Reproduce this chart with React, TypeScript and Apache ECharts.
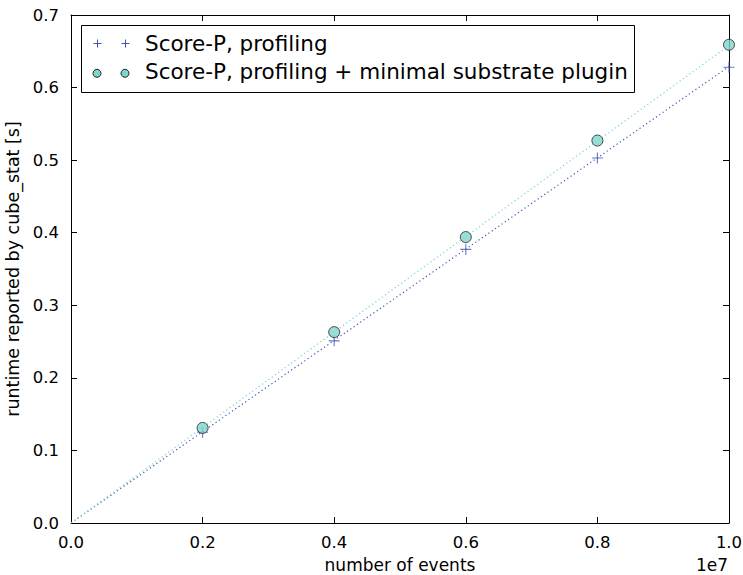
import React, { useEffect, useRef } from "react";
import * as echarts from "echarts";

const events = [2e6, 4e6, 6e6, 8e6, 1e7];
const profiling = [0.125, 0.251, 0.377, 0.503, 0.628];
const plugin = [0.131, 0.263, 0.394, 0.527, 0.659];
const fitProfiling = [[0, 0], [1e7, 0.629]];
const fitPlugin = [[0, 0], [1e7, 0.658]];
const legendNames = ["Score-P, profiling", "Score-P, profiling + minimal substrate plugin"];

const BLUE = "#4352b8";
const CYAN = "#7fd6cc";
const CYAN_LINE = "#86d9d3";
const FONT = "DejaVu Sans";
const PLUS = "path://M4.5,0h1v4.5h4.5v1h-4.5v4.5h-1v-4.5h-4.5v-1h4.5z";

export default function App() {
  const ref = useRef<HTMLDivElement>(null);
  useEffect(() => {
    document.body.style.margin = "0";
    const chart = echarts.init(ref.current!, null, { renderer: "svg" });
    const tickCommon = { show: true, inside: true, length: 6, lineStyle: { color: "#000", width: 1 } };
    const lineCommon = { show: true, onZero: false, lineStyle: { color: "#000", width: 1 } };
    const L = 81.5, T = 25.5, W = 553, H = 67;
    const mx = [97, 125];
    chart.setOption({
      animation: false,
      backgroundColor: "#fff",
      grid: { left: 71, right: 14, top: 15, bottom: 52, containLabel: false, outerBoundsMode: "none" },
      xAxis: [
        {
          type: "value", min: 0, max: 1e7, interval: 2e6, position: "bottom",
          axisLine: lineCommon, axisTick: tickCommon, splitLine: { show: false },
          axisLabel: { fontFamily: FONT, fontSize: 16.5, color: "#000", margin: 11,
            formatter: (v: number) => (v / 1e7).toFixed(1) },
          name: "number of events", nameLocation: "middle", nameGap: 33,
          nameTextStyle: { fontFamily: FONT, fontSize: 17, color: "#000" },
        },
        {
          type: "value", min: 0, max: 1e7, interval: 2e6, position: "top",
          axisLine: lineCommon, axisTick: tickCommon, splitLine: { show: false },
          axisLabel: { show: false },
        },
      ],
      yAxis: [
        {
          type: "value", min: 0, max: 0.7, interval: 0.1, position: "left",
          axisLine: lineCommon, axisTick: tickCommon, splitLine: { show: false },
          axisLabel: { fontFamily: FONT, fontSize: 16.5, color: "#000", margin: 12,
            formatter: (v: number) => v.toFixed(1) },
          name: "runtime reported by cube_stat [s]", nameLocation: "middle", nameGap: 48,
          nameTextStyle: { fontFamily: FONT, fontSize: 17.5, color: "#000" },
        },
        {
          type: "value", min: 0, max: 0.7, interval: 0.1, position: "right",
          axisLine: lineCommon, axisTick: tickCommon, splitLine: { show: false },
          axisLabel: { show: false },
        },
      ],
      series: [
        {
          type: "line", data: fitProfiling, showSymbol: false, symbol: "none",
          lineStyle: { color: BLUE, width: 1.2, type: [1.2, 2.8] }, z: 1,
        },
        {
          type: "line", data: fitPlugin, showSymbol: false, symbol: "none",
          lineStyle: { color: CYAN_LINE, width: 1.3, type: [1.3, 2.7] }, z: 1,
        },
        {
          name: legendNames[0], type: "scatter", symbol: PLUS, symbolSize: 11,
          data: events.map((x, i) => [x, profiling[i]]),
          itemStyle: { color: BLUE }, z: 3,
        },
        {
          name: legendNames[1], type: "scatter", symbol: "circle", symbolSize: 11,
          data: events.map((x, i) => [x, plugin[i]]),
          itemStyle: { color: CYAN, borderColor: "#222", borderWidth: 1 }, z: 4,
        },
      ],
      graphic: [
        { type: "rect", shape: { x: L, y: T, width: W, height: H }, style: { fill: "#fff", stroke: "#000", lineWidth: 1 }, z: 10 },
        ...mx.map((cx) => ({ type: "rect", shape: { x: cx - 3.5, y: 43, width: 8, height: 1 }, style: { fill: BLUE }, z: 11 })),
        ...mx.map((cx) => ({ type: "rect", shape: { x: cx, y: 39.5, width: 1, height: 8 }, style: { fill: BLUE }, z: 11 })),
        ...mx.map((cx) => ({ type: "circle", shape: { cx, cy: 73.3, r: 4 }, style: { fill: CYAN, stroke: "#222", lineWidth: 1 }, z: 11 })),
        { type: "text", x: 145, y: 43, style: { text: legendNames[0], fontFamily: FONT, fontSize: 21.5, fill: "#000", verticalAlign: "middle" }, z: 11 },
        { type: "text", x: 145, y: 71, style: { text: legendNames[1], fontFamily: FONT, fontSize: 21.5, fill: "#000", verticalAlign: "middle" }, z: 11 },
        { type: "text", x: 728, y: 565, style: { text: "1e7", fontFamily: FONT, fontSize: 17, fill: "#000", align: "right", verticalAlign: "middle" }, z: 11 },
      ],
    });
    return () => chart.dispose();
  }, []);
  return <div ref={ref} style={{ width: 743, height: 575 }} />;
}
